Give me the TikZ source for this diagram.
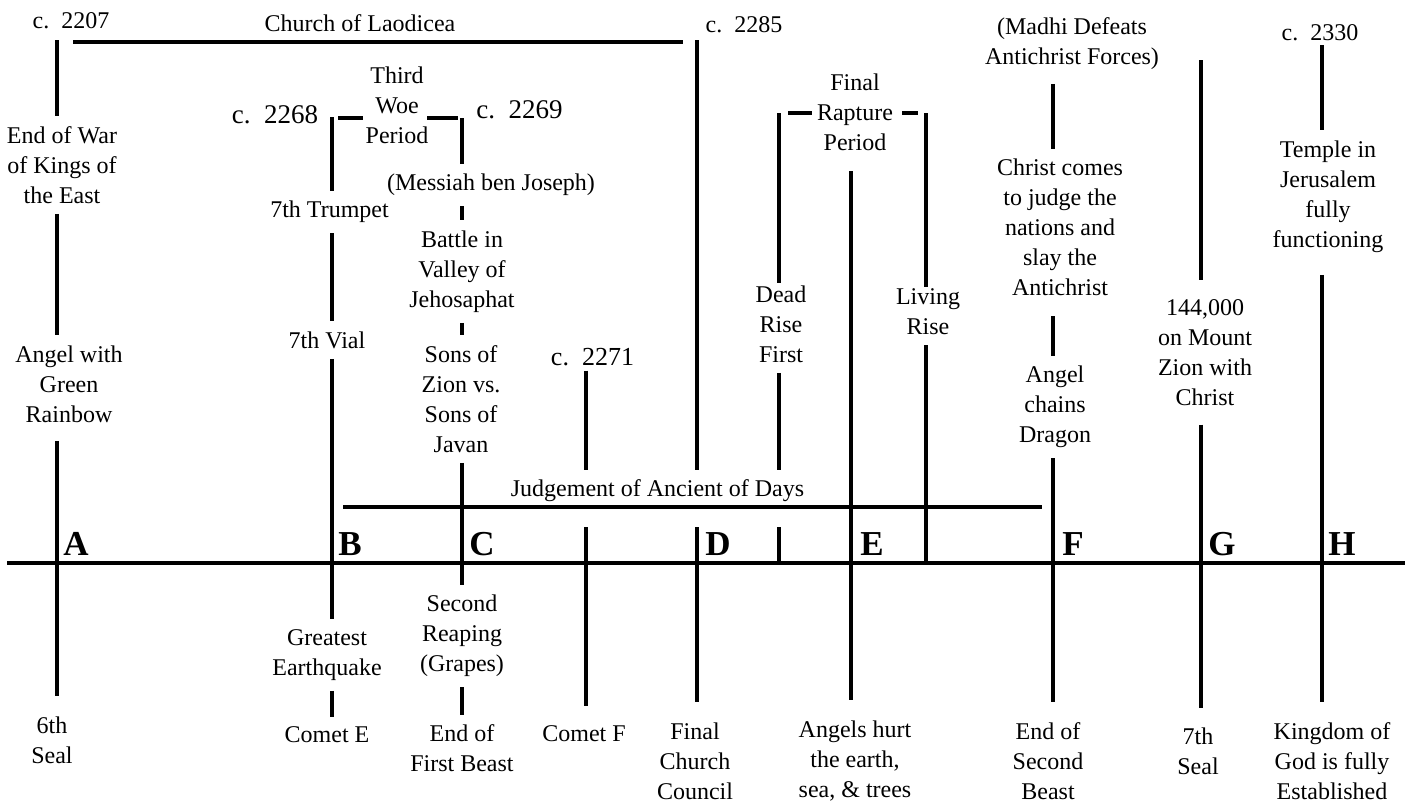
\documentclass[tikz,border=0pt]{standalone}
\usepackage{fontspec}
\setmainfont{Liberation Serif}
\begin{document}
\begin{tikzpicture}[x=0.5pt,y=-0.5pt,
  lbl/.style={align=center,font=\fontsize{12}{15}\selectfont,inner sep=5pt},
  botlbl/.style={lbl,inner ysep=10pt},
  datelbl/.style={font=\fontsize{12}{15}\selectfont,inner sep=2pt},
  bigdate/.style={font=\fontsize{13.5}{15}\selectfont,inner sep=2pt},
  letter/.style={font=\fontsize{17.5}{18}\selectfont\bfseries,inner sep=0pt,anchor=base west},
  thickbar/.style={line width=2.25pt}]
\useasboundingbox (0,0) rectangle (1411,804);
\fill[white] (0,0) rectangle (1411,804);

% axis positions
\coordinate (xA) at (57,563);
\coordinate (xB) at (332,563);
\coordinate (xC) at (462,563);
\coordinate (xCF) at (586,563);
\coordinate (xD) at (697,563);
\coordinate (xDr) at (779,563);
\coordinate (xE) at (851,563);
\coordinate (xLv) at (926,563);
\coordinate (xF) at (1053,563);
\coordinate (xG) at (1201,563);
\coordinate (xH) at (1322,563);
\coordinate (axL) at (7,563);
\coordinate (axR) at (1405,563);

% free ends
\coordinate (A0) at (57,40);
\coordinate (chL) at (73,42);
\coordinate (chR) at (683,42);
\coordinate (D0) at (697,40);
\coordinate (D1) at (697,527);
\coordinate (CF1) at (586,527);
\coordinate (Dr1) at (779,527);
\coordinate (B0) at (332,117);
\coordinate (wL1) at (338,118);
\coordinate (wL2) at (363,118);
\coordinate (wR1) at (427,118);
\coordinate (wR2) at (458,118);
\coordinate (C0) at (462,118);
\coordinate (Dr0) at (779,113);
\coordinate (rL1) at (788,113);
\coordinate (rL2) at (812,113);
\coordinate (rR1) at (902,113);
\coordinate (rR2) at (918,113);
\coordinate (Lv0) at (926,113);
\coordinate (G0) at (1201,60);
\coordinate (jL) at (343,507);
\coordinate (jR) at (1042,507);

% top texts
\node[datelbl] (c2207) at (71,20.5) {c.~~2207};
\node[datelbl] (laod) at (360,23.5) {Church of Laodicea};
\node[datelbl] (c2285) at (744,25) {c.~~2285};
\node[bigdate] (c2268) at (275,114.5) {c.~~2268};
\node[lbl] (woe) at (397,105) {Third\\Woe\\Period};
\node[bigdate] (c2269) at (519.5,110) {c.~~2269};
\node[lbl] (messiah) at (491,185) {(Messiah ben Joseph)};
\node[lbl] (battle) at (462,271.5) {Battle in\\Valley of\\Jehosaphat};
\node[lbl] (trumpet) at (329.5,212) {7th Trumpet};
\node[lbl] (vial) at (327,340) {7th Vial};
\node[lbl] (endwar) at (62,165) {End of War\\of Kings of\\the East};
\node[lbl] (angelg) at (69,384) {Angel with\\Green\\Rainbow};
\node[lbl] (sons) at (461,399) {Sons of\\Zion vs.\\Sons of\\Javan};
\node[datelbl,font=\fontsize{13}{15}\selectfont] (c2271) at (592.5,357.5) {c.~~2271};
\node[lbl] (rapture) at (855,112.5) {Final\\Rapture\\Period};
\node[lbl] (dead) at (781,324) {Dead\\Rise\\First};
\node[lbl] (living) at (928,312) {Living\\Rise};
\node[lbl] (judge) at (657.5,491) {Judgement of Ancient of Days};
\node[lbl] (madhi) at (1072,43.5) {(Madhi Defeats\\Antichrist Forces)};
\node[lbl] (christ) at (1060,227.5) {Christ comes\\to judge the\\nations and\\slay the\\Antichrist};
\node[lbl] (chains) at (1055,407) {Angel\\chains\\Dragon};
\node[lbl] (k144) at (1205,353) {144,000\\on Mount\\Zion with\\Christ};
\node[datelbl] (c2330) at (1320,32.5) {c.~~2330};
\node[lbl] (temple) at (1328,196.5) {Temple in\\Jerusalem\\fully\\functioning};

% bottom texts
\node[botlbl] (sixth) at (52,740) {6th\\Seal};
\node[lbl] (quake) at (327,655) {Greatest\\Earthquake};
\node[lbl] (cometE) at (327,735) {Comet E};
\node[lbl] (reaping) at (462,636) {Second\\Reaping\\(Grapes)};
\node[lbl] (beast1) at (462,748.5) {End of\\First Beast};
\node[botlbl] (cometF) at (584,734) {Comet F};
\node[botlbl] (council) at (695,761) {Final\\Church\\Council};
\node[botlbl] (hurt) at (855,761) {Angels hurt\\the earth,\\sea, \& trees};
\node[botlbl] (beast2) at (1048,761) {End of\\Second\\Beast};
\node[botlbl] (seal7) at (1198,751.5) {7th\\Seal};
\node[botlbl] (kingdom) at (1332,761) {Kingdom of\\God is fully\\Established};

% letters
\node[letter] (LA) at (63,555) {A};
\node[letter] (LB) at (338,555) {B};
\node[letter] (LC) at (469,555) {C};
\node[letter] (LD) at (705,555) {D};
\node[letter] (LE) at (860,555) {E};
\node[letter] (LF) at (1062,555) {F};
\node[letter] (LG) at (1208,555) {G};
\node[letter] (LH) at (1328,555) {H};

% main axis and horizontal bars
\draw[thickbar] (axL) -- (axR);
\draw[thickbar] (chL) -- (chR);
\draw[thickbar] (jL) -- (jR);
\draw[thickbar] (wL1) -- (wL2);
\draw[thickbar] (wR1) -- (wR2);
\draw[thickbar] (rL1) -- (rL2);
\draw[thickbar] (rR1) -- (rR2);

% A
\draw[thickbar] (A0) -- (endwar.north -| xA);
\draw[thickbar] (endwar.south -| xA) -- (angelg.north -| xA);
\draw[thickbar,shorten <=4pt] (angelg.south -| xA) -- (sixth.north -| xA);
% B
\draw[thickbar] (B0) -- (trumpet.north -| xB);
\draw[thickbar] (trumpet.south -| xB) -- (vial.north -| xB);
\draw[thickbar] (vial.south -| xB) -- (quake.north -| xB);
\draw[thickbar] (quake.south -| xB) -- (cometE.north -| xB);
% C
\draw[thickbar] (C0) -- (messiah.north -| xC);
\draw[thickbar] (messiah.south -| xC) -- (battle.north -| xC);
\draw[thickbar] (battle.south -| xC) -- (sons.north -| xC);
\draw[thickbar] (sons.south -| xC) -- (reaping.north -| xC);
\draw[thickbar] (reaping.south -| xC) -- (beast1.north -| xC);
% Comet F
\draw[thickbar] (c2271.south -| xCF) -- (judge.north -| xCF);
\draw[thickbar] (CF1) -- (cometF.north -| xCF);
% D
\draw[thickbar] (D0) -- (judge.north -| xD);
\draw[thickbar] (D1) -- (council.north -| xD);
% Dead rise
\draw[thickbar,shorten >=-4pt] (Dr0) -- (dead.north -| xDr);
\draw[thickbar] (dead.south -| xDr) -- (judge.north -| xDr);
\draw[thickbar] (Dr1) -- (xDr);
% E
\draw[thickbar,shorten <=5pt] (rapture.south -| xE) -- (hurt.north -| xE);
% Living rise
\draw[thickbar,shorten >=-4pt] (Lv0) -- (living.north -| xLv);
\draw[thickbar] (living.south -| xLv) -- (xLv);
% F
\draw[thickbar,shorten <=2pt] (madhi.south -| xF) -- (christ.north -| xF);
\draw[thickbar,shorten <=5pt] (christ.south -| xF) -- (chains.north -| xF);
\draw[thickbar] (chains.south -| xF) -- (beast2.north -| xF);
% G
\draw[thickbar,shorten >=5pt] (G0) -- (k144.north -| xG);
\draw[thickbar,shorten <=4pt] (k144.south -| xG) -- (seal7.north -| xG);
% H
\draw[thickbar] (c2330.south -| xH) -- (temple.north -| xH);
\draw[thickbar,shorten <=6pt] (temple.south -| xH) -- (kingdom.north -| xH);
\end{tikzpicture}
\end{document}
